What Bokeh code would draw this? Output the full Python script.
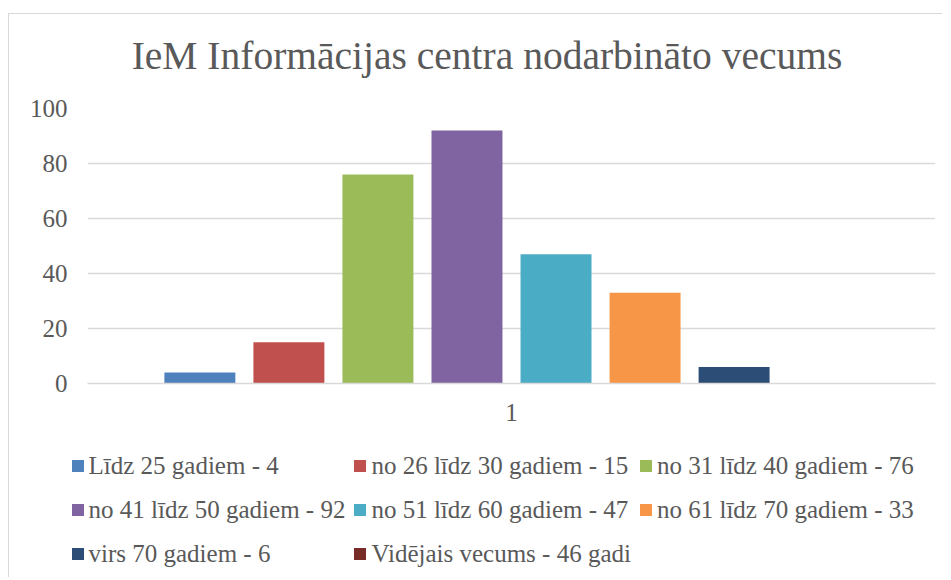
from bokeh.plotting import figure
from bokeh.models import Range1d, FactorRange, Legend, LegendItem, FixedTicker, ColumnDataSource, Label
from bokeh.transform import dodge
from bokeh.embed import file_html
from bokeh.resources import INLINE

title_text = "IeM Informācijas centra nodarbināto vecums"
category = ["1"]
series_labels = [
    "Līdz 25 gadiem - 4",
    "no 26 līdz 30 gadiem - 15",
    "no 31 līdz 40 gadiem - 76",
    "no 41 līdz 50 gadiem - 92",
    "no 51 līdz 60 gadiem - 47",
    "no 61 līdz 70 gadiem - 33",
    "virs 70 gadiem - 6",
    "Vidējais vecums - 46 gadi",
]
series_values = [4, 15, 76, 92, 47, 33, 6, float("nan")]
series_colors = ["#4F81BD", "#C0504D", "#9BBB59", "#8064A2",
                 "#4BACC6", "#F79646", "#2C4D75", "#772C2A"]
y_ticks = [0, 20, 40, 60, 80, 100]

FONT = "Liberation Serif"
TXT = "#595959"
GRID = "#d9d9d9"
BORDER = "1px solid #d9d9d9"
W = 934


def strip(h, margin, styles):
    f = figure(width=W, height=h, x_range=Range1d(0, W), y_range=Range1d(0, h),
               output_backend="svg", toolbar_location=None,
               x_axis_location=None, y_axis_location=None, min_border=0,
               margin=margin, styles=styles)
    f.grid.visible = False
    f.outline_line_color = None
    f.background_fill_color = "white"
    f.border_fill_color = "white"
    return f


# ---- title strip ----
t = strip(81, (13, 0, 0, 8), {"border-left": BORDER, "border-top": BORDER})
t.add_layout(Label(x=477.5, y=39.5, text=title_text, text_align="center",
                   text_baseline="middle", text_font=FONT,
                   text_font_size="39.5px", text_color=TXT))

# ---- chart ----
p = figure(width=W, height=335, x_range=FactorRange(factors=category, range_padding=0),
           y_range=Range1d(0, 100), output_backend="svg", toolbar_location=None,
           min_border_left=78, min_border_right=8, min_border_top=14, min_border_bottom=46,
           margin=(0, 0, 0, 8), styles={"border-left": BORDER})

p.outline_line_color = None
p.background_fill_color = "white"
p.border_fill_color = "white"

n = len(series_values)
step = 0.105
width = 0.0837
for i, (val, col) in enumerate(zip(series_values, series_colors)):
    src = ColumnDataSource(dict(cat=category, value=[val]))
    p.vbar(x=dodge("cat", (i - (n - 1) / 2) * step, range=p.x_range), top="value",
           bottom=0, width=width, source=src, fill_color=col, line_color=None)

p.xgrid.grid_line_color = None
p.ygrid.grid_line_color = GRID
p.ygrid.grid_line_width = 1.5

p.yaxis.ticker = FixedTicker(ticks=y_ticks)
p.yaxis.axis_line_color = None
p.yaxis.major_tick_line_color = None
p.yaxis.minor_tick_line_color = None
p.yaxis.major_tick_out = 0
p.yaxis.major_tick_in = 0
p.yaxis.major_label_standoff = 20
p.yaxis.major_label_text_font = FONT
p.yaxis.major_label_text_font_size = "25px"
p.yaxis.major_label_text_color = TXT

p.xaxis.axis_line_color = GRID
p.xaxis.axis_line_width = 1.5
p.xaxis.major_tick_line_color = None
p.xaxis.minor_tick_line_color = None
p.xaxis.major_tick_out = 0
p.xaxis.major_tick_in = 0
p.xaxis.major_label_standoff = 20
p.xaxis.major_label_text_font = FONT
p.xaxis.major_label_text_font_size = "25px"
p.xaxis.major_label_text_color = TXT

# ---- legend strip ----
q = strip(148, (0, 0, 0, 8), {"border-left": BORDER})
items = []
for lab, col in zip(series_labels, series_colors):
    r = q.vbar(x=[-10.0], top=[0.0], bottom=[0.0], width=1, fill_color=col, line_color=None)
    items.append(LegendItem(label=lab, renderers=[r]))

legend = Legend(items=items, orientation="horizontal", ncols=3, location=(60.5, 5),
                padding=0, margin=0, border_line_color=None, background_fill_alpha=0,
                glyph_width=15, glyph_height=15, label_standoff=4, spacing=7,
                label_height=37, label_text_font=FONT, label_text_font_size="25px",
                label_text_color=TXT)
q.add_layout(legend, "center")

open("out.html", "w").write(file_html([t, p, q], INLINE))
